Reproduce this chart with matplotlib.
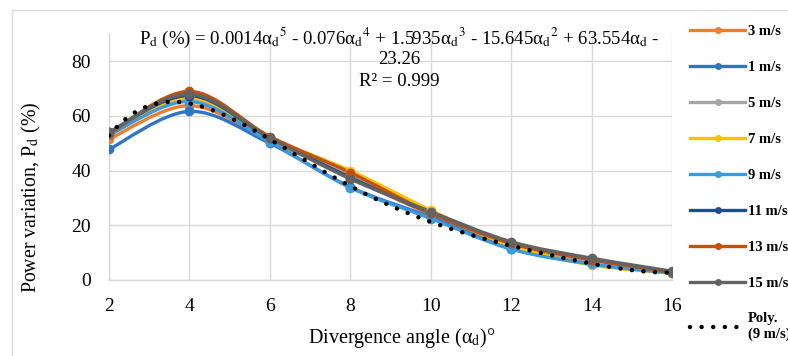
import numpy as np
import matplotlib
matplotlib.use("Agg")
import matplotlib.pyplot as plt
from matplotlib.path import Path
from matplotlib.patches import PathPatch, Rectangle
from matplotlib.lines import Line2D

plt.rcParams['font.family'] = ['Liberation Serif', 'DejaVu Serif']
plt.rcParams['mathtext.fontset'] = 'stix'

# ---- data ----
angles = [2, 4, 6, 8, 10, 12, 14, 16]
series_labels = ["3 m/s", "1 m/s", "5 m/s", "7 m/s", "9 m/s", "11 m/s", "13 m/s", "15 m/s"]
v3 = [51.5, 63.8, 51.0, 37.5, 24.0, 12.5, 6.5, 2.8]
v1 = [47.8, 61.7, 50.0, 34.0, 23.0, 11.5, 6.0, 2.5]
v5 = [53.5, 66.5, 51.5, 38.0, 24.5, 13.0, 7.0, 3.0]
v7 = [53.5, 66.8, 52.0, 40.0, 25.5, 12.5, 5.5, 2.5]
v9 = [53.0, 65.3, 50.5, 33.8, 22.5, 11.3, 5.8, 2.5]
v11 = [54.0, 67.5, 52.0, 37.5, 24.5, 13.5, 7.5, 3.0]
v13 = [53.5, 69.0, 52.5, 39.3, 24.5, 13.5, 7.5, 2.8]
v15 = [54.0, 68.0, 52.0, 37.0, 25.0, 14.0, 8.0, 3.2]
series_values = [v3, v1, v5, v7, v9, v11, v13, v15]
poly_coeffs = [0.0014, -0.076, 1.5935, -15.645, 63.554, -23.26]  # trendline shown on chart
poly_label = "Poly.\n(9 m/s)"

colors = ["#ED7D31", "#2E74C9", "#A5A5A5", "#FFC000", "#3D9BDB", "#1F4E8C", "#C0510F", "#636363"]

W, H = 788, 356
fig = plt.figure(figsize=(W / 100, H / 100), dpi=100)

# chart border
fig.patches.append(Rectangle((12 / W, -0.1), 1.2, 1 - 10 / H + 0.1, transform=fig.transFigure,
                             fill=False, edgecolor="#D9D9D9", linewidth=1.0, clip_on=False))

ax = fig.add_axes([109 / W, 1 - 280 / H, (672 - 109) / W, (280 - 34) / H])
ax.set_xlim(2, 16)
ax.set_ylim(0, 90)
ax.set_xticks(angles)
ax.set_yticks([0, 20, 40, 60, 80])
ax.grid(True, color="#D9D9D9", linewidth=1.0)
ax.set_axisbelow(True)
for s in ["top", "right"]:
    ax.spines[s].set_visible(False)
for s in ["left", "bottom"]:
    ax.spines[s].set_color("#D9D9D9")
    ax.spines[s].set_linewidth(1.0)
ax.tick_params(length=0, labelsize=14, pad=13, colors="#000000")


def smooth_path(xs, ys):
    pts = np.column_stack([xs, ys]).astype(float)
    verts = [pts[0]]
    codes = [Path.MOVETO]
    n = len(pts)
    for i in range(n - 1):
        p0 = pts[i - 1] if i > 0 else pts[i]
        p1 = pts[i]
        p2 = pts[i + 1]
        p3 = pts[i + 2] if i + 2 < n else pts[i + 1]
        c1 = p1 + (p2 - p0) / 6.0
        c2 = p2 - (p3 - p1) / 6.0
        verts += [c1, c2, p2]
        codes += [Path.CURVE4] * 3
    return Path(verts, codes)


handles = []
for lab, vals, c in zip(series_labels, series_values, colors):
    ax.add_patch(PathPatch(smooth_path(angles, vals), fill=False, edgecolor=c,
                           linewidth=2.4, capstyle="round", joinstyle="round", zorder=3))
    ax.plot(angles, vals, linestyle="none", marker="o", markersize=6, color=c, zorder=4)
    handles.append(Line2D([0], [0], color=c, linewidth=2.4, marker="o", markersize=4))

xp = np.linspace(2, 16, 300)
yp = np.polyval(poly_coeffs, xp)
ax.plot(xp, yp, color="black", linewidth=3.2, linestyle=(0, (0.01, 2.6)),
        dash_capstyle="round", zorder=5)
handles.append(Line2D([0], [0], color="black", linewidth=3.2, linestyle=(0, (0.01, 2.6)),
                      dash_capstyle="round"))

leg = fig.legend(handles, series_labels + [poly_label], loc="upper left",
                 bbox_to_anchor=(684 / W, 1 - 19 / H), frameon=False,
                 prop={"family": "Liberation Serif", "weight": "bold", "size": 10.5},
                 handlelength=3.8, handletextpad=0.2, labelspacing=1.56, borderaxespad=0)

fig.text(402 / W, 1 - 338 / H, r"Divergence angle (α$_\mathrm{d}$)°", ha="center", va="center",
         fontsize=14.5)
fig.text(31 / W, 1 - 197 / H, r"Power variation, P$_\mathrm{d}$ (%)", ha="center", va="center",
         rotation=90, fontsize=14.3)

eq = (r"P$_\mathrm{d}$ (%) = 0.0014α$_\mathrm{d}$$^5$ - 0.076α$_\mathrm{d}$$^4$ + 1.5935α$_\mathrm{d}$$^3$"
      r" - 15.645α$_\mathrm{d}$$^2$ + 63.554α$_\mathrm{d}$ -")
fig.text(399 / W, 1 - 38 / H, eq, ha="center", va="center", fontsize=13.5)
fig.text(399 / W, 1 - 60 / H, "23.26", ha="center", va="center", fontsize=13.5)
fig.text(399 / W, 1 - 82 / H, "R² = 0.999", ha="center", va="center", fontsize=13.5)

fig.savefig("out.png", dpi=100)
